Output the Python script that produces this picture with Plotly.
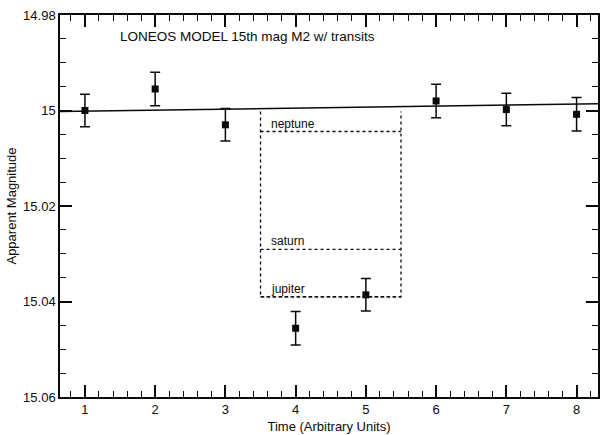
import plotly.graph_objects as go

# Observations
time = [1, 2, 3, 4, 5, 6, 7, 8]
magnitude = [15.0, 14.9955, 15.003, 15.0456, 15.0386, 14.998, 14.9998, 15.0008]
mag_error = [0.0034, 0.0035, 0.0034, 0.0035, 0.0034, 0.0035, 0.0034, 0.0035]

# Model baseline
model_time = [0.645, 8.305]
model_mag = [15.0002, 14.9986]

# Transit window and depths
transit_start = 3.5
transit_end = 5.5
planets = ["neptune", "saturn", "jupiter"]
planet_mag = [15.0044, 15.0291, 15.039]

x_ticks = [1, 2, 3, 4, 5, 6, 7, 8]
y_ticks = [14.98, 15.0, 15.02, 15.04, 15.06]
y_tick_text = ["14.98", "15", "15.02", "15.04", "15.06"]

title_text = "LONEOS MODEL 15th mag M2 w/ transits"

font = "Liberation Sans, Arial, sans-serif"
ink = "rgb(10,10,10)"

fig = go.Figure()

fig.add_trace(go.Scatter(
    x=model_time, y=model_mag, mode="lines",
    line=dict(color=ink, width=1.5), hoverinfo="skip"))

# Dotted transit box (top edge is the model line)
deepest = max(planet_mag)
fig.add_trace(go.Scatter(
    x=[transit_start, transit_start, transit_end, transit_end],
    y=[model_mag[0], deepest, deepest, model_mag[0]],
    mode="lines", line=dict(color=ink, width=1.3, dash="dot"),
    hoverinfo="skip"))
for name, m in zip(planets, planet_mag):
    fig.add_trace(go.Scatter(
        x=[transit_start, transit_end], y=[m, m], mode="lines",
        line=dict(color=ink, width=1.3, dash="dot"), hoverinfo="skip"))
    fig.add_annotation(x=transit_start + 0.12, y=m, text=name, showarrow=False,
                       xanchor="left", yanchor="bottom", yshift=-1,
                       font=dict(family=font, size=12, color=ink))

fig.add_trace(go.Scatter(
    x=time, y=magnitude, mode="markers",
    marker=dict(symbol="square", size=7, color=ink),
    error_y=dict(type="data", array=mag_error, visible=True,
                 color=ink, thickness=1.5, width=5)))

fig.add_annotation(x=0.1075, y=0.943, xref="paper", yref="paper", text=title_text,
                   showarrow=False, xanchor="left", yanchor="middle",
                   font=dict(family=font, size=13.5, color=ink))

fig.update_layout(
    width=601, height=435, margin=dict(l=60, r=1, t=15, b=38),
    plot_bgcolor="white", paper_bgcolor="white", showlegend=False,
    xaxis=dict(range=[0.645, 8.305], tickvals=x_ticks, showline=True,
               showgrid=False, zeroline=False,
               linecolor=ink, linewidth=1.5, mirror="ticks", ticks="inside", ticklen=12,
               tickcolor=ink, tickwidth=1.5,
               tickfont=dict(family=font, size=13, color=ink),
               title=dict(text="Time (Arbitrary Units)", standoff=6,
                          font=dict(family=font, size=13, color=ink)),
               minor=dict(dtick=0.2, ticks="inside", ticklen=6, tickcolor=ink, tickwidth=1.3)),
    yaxis=dict(range=[15.06, 14.98], tickvals=y_ticks, ticktext=y_tick_text,
               showline=True, linecolor=ink, mirror="ticks",
               showgrid=False, zeroline=False, linewidth=1.5,
               tickfont=dict(family=font, size=13, color=ink),
               title=dict(text="Apparent Magnitude", standoff=4,
                          font=dict(family=font, size=13, color=ink)),
               ticks="inside", ticklen=12, tickcolor=ink, tickwidth=1.5,
               minor=dict(dtick=0.005, ticks="inside", ticklen=6, tickcolor=ink, tickwidth=1.3)),
)

fig.write_html("out.html")
